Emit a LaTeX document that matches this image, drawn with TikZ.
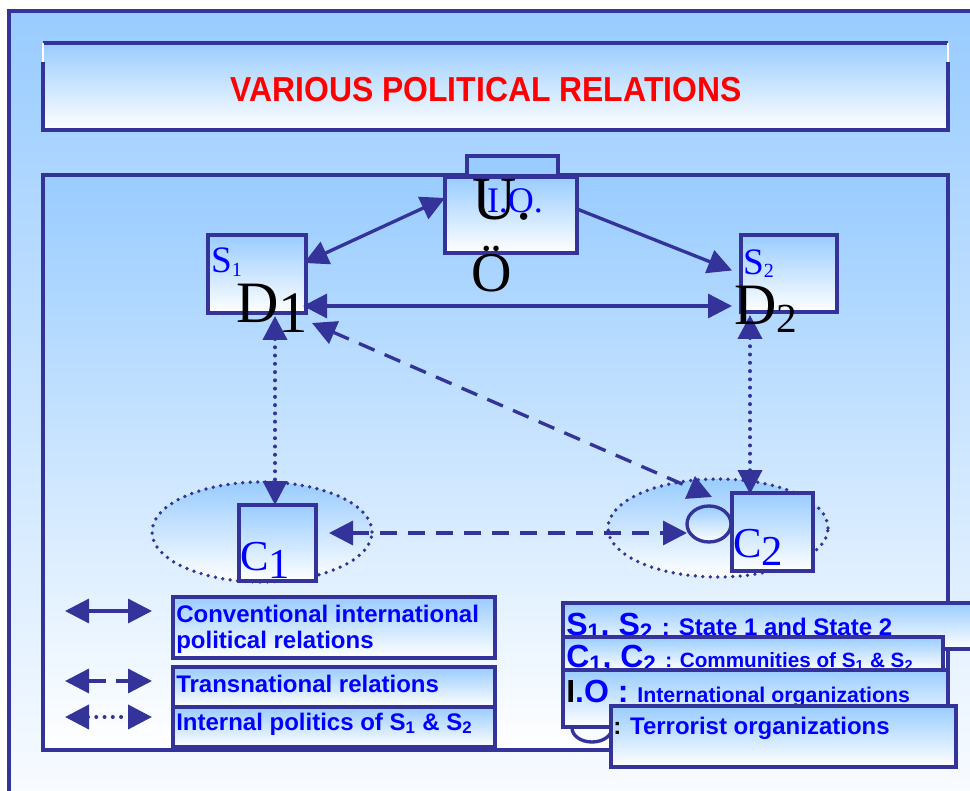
\documentclass[tikz,border=0pt]{standalone}
\usepackage{fontspec}
\setmainfont{Liberation Serif}
\setsansfont{Liberation Sans}
\usetikzlibrary{arrows.meta,shapes.geometric,calc}
\definecolor{navy}{RGB}{51,51,153}
\definecolor{lblue}{RGB}{153,204,255}
\definecolor{tblue}{RGB}{0,0,255}
\definecolor{paleend}{RGB}{248,251,255}
\begin{document}
\begin{tikzpicture}[x=0.75pt,y=-0.75pt,
  >={Triangle[length=18pt,width=18pt]},
  bx/.style={rectangle,draw=navy,line width=3pt,top color=lblue,bottom color=white,inner sep=0pt,outer sep=0pt},
  solidarr/.style={draw=navy,line width=2.5pt},
  dasharr/.style={draw=navy,line width=2.5pt,dash pattern=on 12.75pt off 8.25pt},
  dotarr/.style={draw=navy,line width=3pt,dash pattern=on 0pt off 6.2pt,line cap=round},
  dotell/.style={ellipse,draw=navy,line width=2.8pt,dash pattern=on 0pt off 5.6pt,line cap=round,top color=lblue,bottom color=white,inner sep=0pt,outer sep=0pt},
  sertext/.style={anchor=base west,inner sep=0pt,outer sep=0pt},
  lt/.style={anchor=base west,inner sep=0pt,font=\sffamily\bfseries\fontsize{18}{18}\selectfont,text=tblue},
  rt/.style={anchor=base west,inner sep=0pt,font=\sffamily\bfseries,text=tblue}
]
\useasboundingbox (0,0) rectangle (970,791);
\fill[white] (0,0) rectangle (970,791);
% outer frame
\fill[top color=lblue,bottom color=paleend] (8,11) rectangle (970,791);
\draw[navy,line width=3pt] (8.5,791) -- (8.5,11.5) -- (970,11.5);

% title box
\node[rectangle,inner sep=0pt,outer sep=0pt,minimum width=678.75pt,minimum height=65.25pt,top color=lblue,bottom color=white] (titlebox) at (495.5,86.5) {};
\draw[navy,line width=3pt] (titlebox.north west) -- (titlebox.north east);
\draw[navy,line width=3pt] ($(titlebox.north west)+(0,19)$) -- (titlebox.south west) -- (titlebox.south east) -- ($(titlebox.north east)+(0,19)$);
\draw[white,line width=1pt] (titlebox.north west) -- ++(0,19);
\draw[white,line width=1pt] (titlebox.north east) -- ++(0,19);
\node[inner sep=0pt,font=\sffamily\bfseries\fontsize{26}{26}\selectfont,text=red] (title) at (486,89.5) {\scalebox{0.92}[1]{VARIOUS POLITICAL RELATIONS}};

% inner box
\node[bx,minimum width=678.75pt,minimum height=431.25pt] (inner) at (495.5,462.5) {};

% ellipses
\node[dotell,minimum width=165pt,minimum height=75pt] (e1) at (262,532) {};
\node[dotell,minimum width=165pt,minimum height=73.5pt] (e2) at (718,528) {};

% IO tab and box
\node[rectangle,draw=navy,line width=3pt,fill=lblue,minimum width=68.25pt,minimum height=15pt,inner sep=0pt,outer sep=0pt] (iotab) at (512.5,166) {};
\node[bx,minimum width=99pt,minimum height=57pt] (io) at (511,215) {};
% state boxes
\node[bx,minimum width=73.5pt,minimum height=58.5pt] (s1) at (257,274) {};
\node[bx,minimum width=72pt,minimum height=57.75pt] (s2) at (789,273.5) {};
% community boxes
\node[bx,minimum width=57.75pt,minimum height=57pt] (c1) at (277.5,543) {};
\node[ellipse,draw=navy,line width=2.5pt,top color=lblue,bottom color=white,minimum width=33pt,minimum height=27pt,inner sep=0pt,outer sep=0pt] (te) at (709,524) {};
\node[bx,minimum width=60.75pt,minimum height=58.5pt] (c2) at (772.5,532) {};

% texts in diagram
\node[sertext,font=\fontsize{46}{46}\selectfont] (ulab) at (472,220) {U.};
\node[sertext,font=\fontsize{27}{27}\selectfont,text=tblue] (iolab) at (487,213) {I.O.};
\node[sertext,font=\fontsize{42}{42}\selectfont] (olab) at (471,292) {Ö};
\node[sertext,font=\fontsize{28}{28}\selectfont,text=tblue] (s1lab) at (211,273) {S\raisebox{-3pt}{\fontsize{15}{15}\selectfont 1}};
\node[sertext,font=\fontsize{28}{28}\selectfont,text=tblue] (s2lab) at (743,275) {S\raisebox{-2pt}{\fontsize{15}{15}\selectfont 2}};
\node[sertext,font=\fontsize{32}{32}\selectfont,text=tblue] (c1lab) at (240,570) {C\raisebox{-6pt}{1}};
\node[sertext,font=\fontsize{32}{32}\selectfont,text=tblue] (c2lab) at (733,557) {C\raisebox{-6pt}{2}};

% connectors
\draw[solidarr,<->] ($(io.west)+(0,-17)$) -- ($(s1.east)+(-2,-11)$);
\draw[solidarr,->] ($(io.east)+(0,-6)$) -- ($(s2.west)+(-9,-3)$);
\draw[solidarr,<->] ($(s1.east)+(-3,32)$) -- ($(s2.west)+(-9,32.5)$);
\draw[dasharr,<->] ($(s1.south east)+(6,10)$) -- ($(c2.north west)+(-20,4)$);
\draw[dasharr,<->] ($(c1.east)+(13,-10)$) -- ($(te.west)+(0,9)$);
\draw[dotarr,<->] ($(s1.south)+(18,3)$) -- ($(c1.north)+(-2.5,0)$);
\draw[dotarr,<->] ($(s2.south)+(-39,3)$) -- ($(c2.north)+(-22.5,1)$);

% D labels drawn over arrows
\node[sertext,font=\fontsize{44}{44}\selectfont] (d1lab) at (236,323) {D\raisebox{-7pt}{1}};
\node[sertext,font=\fontsize{44}{44}\selectfont] (d2lab) at (734,325) {D\raisebox{-6pt}{\fontsize{31}{31}\selectfont 2}};

% left legend
\coordinate (la1) at (65,611); \coordinate (lb1) at (152,611);
\coordinate (la2) at (65,681); \coordinate (lb2) at (152,681);
\coordinate (la3) at (65,717); \coordinate (lb3) at (152,717);
\draw[solidarr,<->] (la1) -- (lb1);
\draw[draw=navy,line width=2.5pt,dash pattern=on 13.5pt off 7.5pt,<->] (la2) -- (lb2);
\draw[dotarr,<->] (la3) -- (lb3);

\node[bx,minimum width=241.5pt,minimum height=45.75pt] (lbox1) at (334,627.5) {};
\node[bx,minimum width=241.5pt,minimum height=30pt] (lbox2) at (334,687) {};
\node[bx,minimum width=241.5pt,minimum height=30pt] (lbox3) at (334,727) {};
\node[lt] (lt1a) at (176,622) {Conventional international};
\node[lt] (lt1b) at (176,648) {political relations};
\node[lt] (lt2) at (176,692) {Transnational relations};
\node[lt] (lt3) at (176,730) {Internal politics of S\textsubscript{1} \& S\textsubscript{2}};

% right legend
\node[bx,minimum width=316.5pt,minimum height=34.5pt] (rb1) at (774,626) {};
\node[rt] (rt1) at (566,635) {\fontsize{24}{24}\selectfont S\textsubscript{1}, S\textsubscript{2} \fontsize{18}{18}\selectfont: State 1 and State 2};
\node[bx,minimum width=285pt,minimum height=24.75pt] (rb2) at (753,653.5) {};
\node[rt] (rt2) at (566,667) {\fontsize{24}{24}\selectfont C\textsubscript{1}, C\textsubscript{2} \fontsize{15.5}{15.5}\selectfont: Communities of S\textsubscript{1} \& S\textsubscript{2}};
\node[ellipse,draw=navy,line width=2.5pt,fill=paleend,minimum width=30pt,minimum height=21pt,inner sep=0pt,outer sep=0pt] (te2) at (592,728) {};
\node[bx,minimum width=288.75pt,minimum height=42.75pt] (rb3) at (755.5,698.5) {};
\node[rt] (rt3) at (566,702) {\fontsize{24}{24}\selectfont\textcolor{black}{I}.O : \fontsize{16}{16}\selectfont International organizations};
\node[bx,minimum width=258.75pt,minimum height=45.75pt] (rb4) at (783.5,736.5) {};
\node[rt,font=\sffamily\bfseries\fontsize{18}{18}\selectfont] (rt4) at (613,734) {\textcolor{black}{:} Terrorist organizations};
\end{tikzpicture}
\end{document}
